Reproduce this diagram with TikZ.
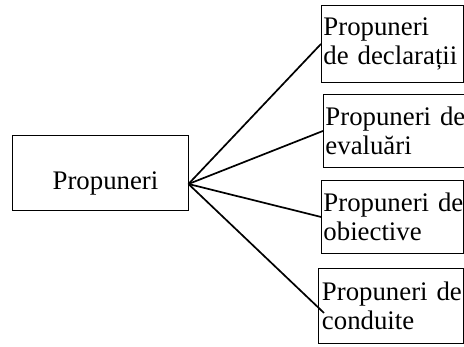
\documentclass[tikz,border=0pt]{standalone}
\usepackage{fontspec}
\setmainfont{Liberation Serif}
\usepackage{tikz}
\usetikzlibrary{positioning}
\tikzstyle{block} = [rectangle, draw=black, line width=0.9pt, fill=white, inner xsep=2pt, inner ysep=0pt, font=\fontsize{26.8}{29}\selectfont]
\tikzstyle{sub} = [block, anchor=north west, minimum width=142pt, text width=138pt, align=left]
\tikzstyle{link} = [line width=1.7pt]

\begin{document}
\begin{tikzpicture}[x=1pt, y=1pt]
	\useasboundingbox (0,0) rectangle (464,-347);
	\node (prop) [block, minimum width=176pt, minimum height=75pt, text height=35pt, text depth=0pt] at (100,-172.5) {\hspace*{11pt}Propuneri};
	\node (decl) [sub, minimum height=77pt] at (321,-5) {Propuneri\\de declarații};
	\node (eval) [sub, minimum height=73pt] at (323,-94) {Propuneri~de\\evaluări};
	\node (obie) [sub, minimum height=73pt] at (321,-180) {Propuneri~de\\obiective};
	\node (cond) [sub, minimum height=75pt, minimum width=145pt] at (318,-268) {Propuneri~de\\conduite};
	\coordinate (hub) at ([yshift=-11.5pt]prop.east);

	\draw [link] (hub) -- (decl.west);
	\draw [link] (hub) -- (eval.west);
	\draw [link] (hub) -- (obie.west);
	\draw [link] (hub) -- ([xshift=6pt,yshift=-7pt]cond.west);
	\end{tikzpicture}
\end{document}
